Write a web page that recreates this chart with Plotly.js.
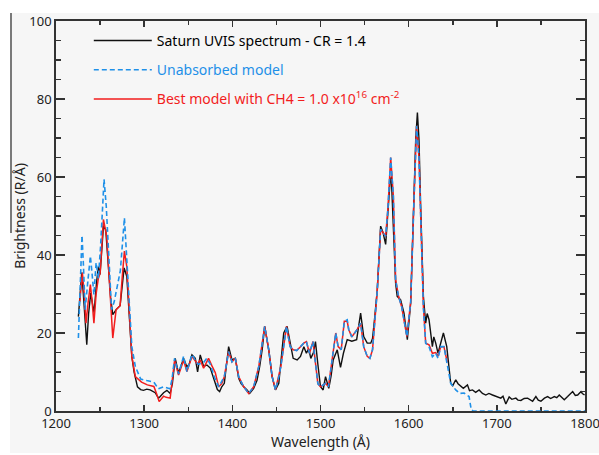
<!DOCTYPE html>
<html>
<head>
<meta charset="utf-8">
<script src="https://cdn.plot.ly/plotly-3.0.1.min.js"></script>
<style>
  html, body { margin: 0; padding: 0; background: #ffffff; width: 599px; height: 455px; overflow: hidden; }
  #panel { position: absolute; left: 10px; top: 13px; width: 589px; height: 440px; background: #f6f6f6; }
  #edge { position: absolute; left: 10px; top: 13px; width: 1.5px; height: 220px; background: #7a7a7a; }
  #chart { position: absolute; left: 10px; top: 0px; width: 589px; height: 453px; }
</style>
</head>
<body>
<div id="panel"></div>
<div id="edge"></div>
<div id="chart"></div>
<script>
// Observed Saturn UVIS spectrum (wavelength in Å, brightness in R/Å)
const wlObs = [1225.4,1229.2,1231,1234.9,1237,1239.4,1241,1243.2,1246,1248.1,1250,1253.8,1256.4,1259,1262,1264.4,1268.2,1272.7,1275,1277.3,1280.3,1283,1286,1288.6,1292.4,1296,1299.2,1303,1306.8,1312.5,1316.3,1318.2,1322,1325.8,1329.5,1332,1335.2,1339,1342,1344.7,1348.5,1351,1354.2,1358,1360.6,1363.6,1367.4,1371.2,1375,1378,1380.7,1383,1385.6,1388,1390.9,1393,1395.8,1399.6,1403.4,1407.2,1410,1412.9,1416.7,1419.7,1424.2,1428,1431,1434,1436.7,1441.3,1445.1,1448.9,1452.7,1455.3,1458.3,1462.1,1465.1,1469,1473.5,1477.3,1481.1,1484,1486.6,1489,1492,1494.3,1497,1500,1503,1505.7,1509.4,1512,1514.4,1519,1522.7,1526,1530.3,1535.5,1541,1545.5,1549,1553,1557,1559,1561.5,1564.4,1568.2,1571,1573.9,1575.8,1578.8,1580.3,1582.6,1585.2,1587,1590.9,1594.7,1598.5,1602.3,1605.3,1608,1609.9,1611.7,1613.6,1616.7,1619.3,1621,1623.1,1626.9,1628.5,1630.7,1633.3,1636.4,1639.4,1643.2,1647.7,1650,1653.4,1656,1659.1,1662,1666.7,1669,1672.4,1676,1679.9,1683.7,1687.5,1691,1695.1,1700.8,1704.5,1707,1710.2,1714,1717,1721.6,1724,1727.3,1731,1734.9,1738,1740.6,1744.3,1747,1750,1754,1757.6,1761,1765.2,1768,1770.8,1774,1776.5,1780.3,1783,1786,1789,1791.7,1795.5,1797,1799.5];
const obs = [24.2,35.5,30,17,25,30.3,28,25.2,33,37,35,47.4,46.5,38,29,24.7,26,27,32,36.7,34.5,24,14,10,6.2,5.5,5.3,5.6,5.4,4.7,3.3,3.7,4.7,5.3,4.5,7,13.5,9.7,11.5,13.5,11.3,12,14.4,13.5,10,14.4,11.4,11.8,11,9,7.1,5.5,5,6.2,7.1,11,16.5,13.1,13.5,8.4,7,6.2,5.4,4.5,5.8,7.9,11.4,16,21.7,15.7,8.8,5.4,7.1,13.1,20,21.7,18.3,13.5,13.1,14,16.5,14.8,16,13.5,15,17.8,12,6.2,5.4,8.8,5.8,9,13.1,15.7,11.2,14.8,18.3,17.9,18.3,25.1,19.1,17.4,17.4,18.6,24,31.1,47.4,45.7,42.7,48.3,58.5,60.1,48.3,32.8,29.4,28.5,25.1,18.3,27.7,48.3,69.7,76.5,69.7,52.5,29.4,22.5,25,23.4,16.5,19,17.4,14.8,17.4,20,16.5,7.1,6.5,8,7,6.4,5.8,6.7,5.2,5.4,4.8,5.4,4.5,4.1,4.5,4.1,3.7,3.3,3.8,1.8,3.6,3.0,3.3,2.8,2.7,3.2,3.3,2.9,2.5,3.7,2.8,2.5,3.3,3.7,3.2,3.7,3.4,4.1,3.5,2.9,3.7,4.2,5,4.0,4.1,5,4.5,4.1];

// Unabsorbed model
const wlUnabs = [1225.4,1227.5,1229.5,1231,1233,1236,1239,1241,1243,1245.5,1248,1250.5,1254.5,1257,1260,1263,1266,1270,1273,1277.6,1280.3,1283,1286,1290,1296,1303,1311,1316,1322,1329,1331.5,1334.5,1339,1344.7,1348.5,1354.2,1358,1361,1367.4,1371,1375,1380,1384.5,1388,1390.9,1395.8,1399.6,1403.4,1407.2,1412.9,1418.6,1424.2,1430,1436.7,1441.3,1445,1448.9,1453,1455,1461.4,1465.5,1469,1473,1477.3,1481,1484,1487.5,1491.5,1494,1497,1500,1505.7,1509,1513,1517.3,1520,1523.5,1527,1530.3,1532,1535.5,1541,1545.5,1549,1553,1556,1559,1564.4,1568.2,1571,1573.9,1576.5,1579.6,1582.6,1585.2,1588.5,1592,1598,1602.3,1605.8,1609,1611.7,1613.6,1616.7,1619.3,1623.1,1626.9,1630.7,1633.3,1636.4,1640,1643.8,1647.7,1653.4,1658,1662.9,1668.5,1671,1673,1800];
const unabs = [18.7,32,45,38,26,33,39.7,35,29.8,38,34,42,59.4,52.5,38,26,28,32.8,36,49.5,39.7,27,16.5,11.4,8.2,7.8,7.4,5.7,6.2,5.7,8,13.5,9.5,14,10.1,14.5,13,12,12.4,13.5,12,8.5,6.2,7.5,8.8,15.2,12.6,13.5,8.8,6.2,4.5,6.2,11.4,21.7,15.7,9,5.4,9,11.4,21.7,16.5,15.7,15.5,16.5,17.4,17.8,14.8,17.8,13,7,6.2,7.1,6.2,13,20,16.5,15.7,23,23.4,20.9,19,20.7,22.5,16.5,14,13.5,15.7,31,46.6,45.7,44.8,52,65,55.2,33.7,29.4,26.8,19.1,28,52.5,73.1,65,48,26.8,17.4,16.5,13.9,14.8,13.5,16.5,16.5,12.2,7.1,5.4,4.5,4.6,3.7,0.3,0,0];

// Best model with CH4 column of 1.0e16 cm^-2
const wlBest = [1227,1229.9,1232,1234,1236.5,1239,1241,1243,1245.5,1248,1250,1253.8,1257.5,1260,1262,1264.4,1268.2,1272.7,1275,1277.6,1280.3,1283,1286,1290,1297,1303.6,1311,1314,1317,1322,1325,1329.5,1331.5,1334.5,1339,1344.7,1348.5,1354.2,1360.6,1363.6,1367.4,1373,1377,1380.7,1384.5,1388,1390.9,1395.8,1399.6,1403.4,1407.2,1412.9,1418.6,1424.2,1430,1436.7,1441.3,1445,1448.9,1453,1455,1461.4,1465.5,1469,1473,1477.3,1481,1484,1487.5,1491.5,1494,1497,1500,1505.7,1509,1513,1517.3,1520,1523.5,1527,1530.3,1532,1535.5,1541,1545.5,1549,1553,1556,1559,1564.4,1568.2,1571,1573.9,1576.5,1579.6,1582.6,1585.2,1588.5,1592,1598,1602.3,1605.8,1609,1611.7,1613.6,1616.7,1619.3,1623.1,1626.9,1630.7,1633.3,1636.4,1640,1643.8];
const best = [28,35.5,30,22.5,28,32.4,28,22.5,30,34,35.3,49.1,44.8,35,25,18.7,26,27,34,41,37,25,14,8.8,7.4,6.7,6.3,4.5,2.4,3.8,3.5,3.3,7,13,9.2,13,10.1,14,12,13.1,11,13.5,11.5,9.8,6.2,7,8.8,15.2,12.6,13.5,8.8,6.2,4.5,6.2,11.4,21.7,15.7,9,5.4,9,11.4,21.7,16.5,15.7,15.5,16.5,17.4,17.8,14.8,17.8,13,7,6.2,7.1,6.2,13,20,16.5,15.7,23,23,20.9,19,20.7,22.5,16.5,14,13.5,15.7,31,46.6,45.7,44.8,52,65,55.2,33.7,29.4,26.8,19.1,28,52.5,73.1,65,48,26.8,17.4,17,14.8,15,14,16.5,16.5,12.5];

const xTicks = [1200, 1300, 1400, 1500, 1600, 1700, 1800];
const yTicks = [0, 20, 40, 60, 80, 100];

const cBlack = '#111111';
const cBlue = '#1e90e8';
const cRed = '#f21d1d';
const font = 'Noto Sans, Open Sans, sans-serif';

const traces = [
  {
    x: wlObs, y: obs, type: 'scatter', mode: 'lines',
    name: '<span style="color:#000">Saturn UVIS spectrum - CR = 1.4</span>',
    line: {color: cBlack, width: 1.4},
    legendgroup: 'a', legendrank: 1
  },
  {
    x: wlBest, y: best, type: 'scatter', mode: 'lines',
    name: '<span style="color:' + cRed + '">Best model with CH4 = 1.0 x10<sup>16</sup> cm<sup>-2</sup></span>',
    line: {color: cRed, width: 1.5},
    legendgroup: 'c', legendrank: 3
  },
  {
    x: wlUnabs, y: unabs, type: 'scatter', mode: 'lines',
    name: '<span style="color:' + cBlue + '">Unabsorbed model</span>',
    line: {color: cBlue, width: 1.6, dash: '5px,3px'},
    legendgroup: 'b', legendrank: 2
  }
];

const layout = {
  width: 589, height: 453,
  margin: {l: 46, r: 14, t: 21, b: 42},
  paper_bgcolor: 'rgba(0,0,0,0)',
  plot_bgcolor: 'rgba(0,0,0,0)',
  font: {family: font, size: 13, color: '#222'},
  showlegend: true,
  legend: {
    x: 0.062, y: 0.99, xanchor: 'left', yanchor: 'top',
    bgcolor: 'rgba(0,0,0,0)', borderwidth: 0,
    font: {family: font, size: 14},
    traceorder: 'grouped', tracegroupgap: 8, itemwidth: 58
  },
  xaxis: {
    range: [1200, 1800], tickvals: xTicks, ticktext: xTicks.map(String),
    ticks: 'inside', ticklen: 6, tickwidth: 1.5, tickcolor: '#333',
    minor: {dtick: 50, tick0: 1200, ticks: 'inside', ticklen: 4, tickwidth: 1.5, tickcolor: '#333'},
    showline: true, linecolor: '#333', linewidth: 1.8, mirror: 'ticks',
    showgrid: false, zeroline: false, layer: 'below traces',
    ticklabeloverflow: 'allow',
    tickfont: {size: 13, color: '#222'},
    title: {text: 'Wavelength (Å)', font: {size: 14, color: '#222'}, standoff: 4}
  },
  yaxis: {
    range: [0, 100], tickvals: yTicks, ticktext: yTicks.map(String),
    ticks: 'inside', ticklen: 9, tickwidth: 1.5, tickcolor: '#333',
    minor: {dtick: 5, tick0: 0, ticks: 'inside', ticklen: 5, tickwidth: 1.5, tickcolor: '#333'},
    showline: true, linecolor: '#333', linewidth: 1.8, mirror: 'ticks',
    showgrid: false, zeroline: false,
    ticklabeloverflow: 'allow',
    tickfont: {size: 13, color: '#222'},
    title: {text: 'Brightness (R/Å)', font: {size: 14, color: '#222'}, standoff: 6}
  }
};

Plotly.newPlot('chart', traces, layout, {displayModeBar: false, staticPlot: true});
</script>
</body>
</html>
